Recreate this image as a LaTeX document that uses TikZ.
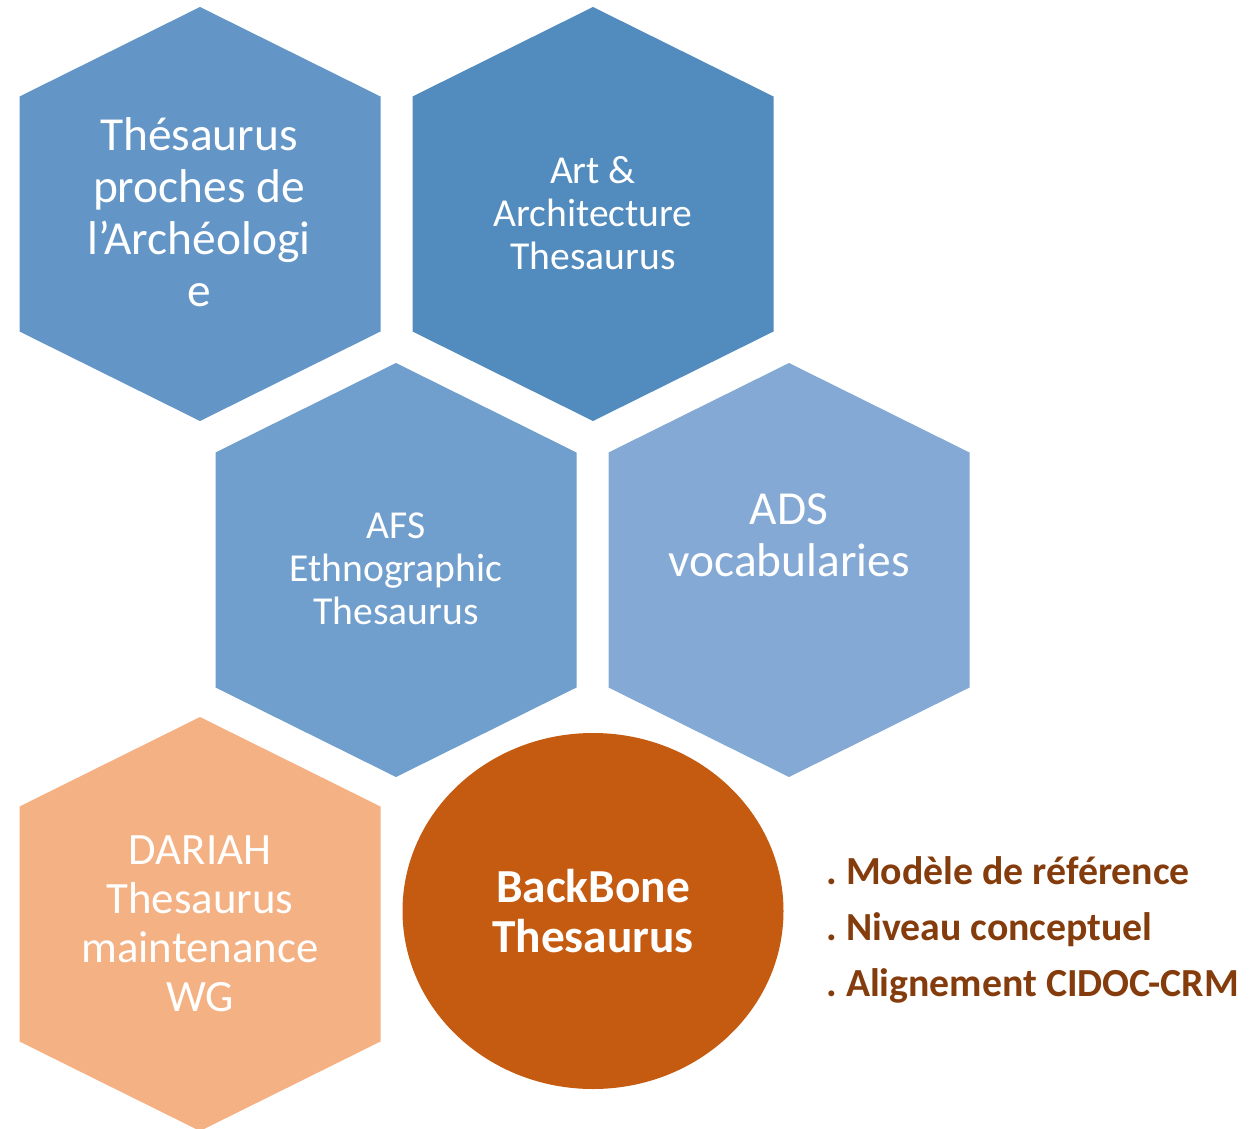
\documentclass[tikz,border=0pt]{standalone}
\usepackage{fontspec}
\setmainfont{Carlito}
\frenchspacing
\usetikzlibrary{shapes.geometric}
\definecolor{hexone}{HTML}{6396C6}
\definecolor{hextwo}{HTML}{528BBE}
\definecolor{hexthree}{HTML}{709ECD}
\definecolor{hexfour}{HTML}{84A9D4}
\definecolor{hexfive}{HTML}{F4B183}
\definecolor{backbone}{HTML}{C55A11}
\definecolor{listbrown}{HTML}{843C0C}
\newcommand{\hexpath}{(0,-207) -- (180.5,-117.5) -- (180.5,117.5) -- (0,207) -- (-180.5,117.5) -- (-180.5,-117.5) -- cycle}
\tikzset{
    hexlabel/.style={text=white, align=center, inner sep=0pt},
    biglabel/.style={hexlabel, font=\fontsize{23.7}{26}\selectfont},
    smalllabel/.style={hexlabel, font=\fontsize{19.8}{21.5}\selectfont},
    listitem/.style={anchor=base west, inner sep=0pt, text=listbrown,
        font=\fontsize{19.9}{24}\selectfont\bfseries}
}

\begin{document}
\begin{tikzpicture}[x=0.5pt,y=-0.5pt]
    \useasboundingbox (0,0) rectangle (1258,1129);
    % hexagons
    \fill[hexone, shift={(200,214)}] \hexpath;
    \fill[hextwo, shift={(593,214)}] \hexpath;
    \fill[hexthree, shift={(396,570)}] \hexpath;
    \fill[hexfour, shift={(789,570)}] \hexpath;
    \fill[hexfive, shift={(200,924)}] \hexpath;
    % labels
    \node[biglabel] (archeo) at (199,212) {Thésaurus\\proches de\\l’Archéologi\\e};
    \node[smalllabel] (aat) at (593,213) {Art \&\\Architecture\\Thesaurus};
    \node[smalllabel] (afs) at (396,569) {AFS\\Ethnographic\\Thesaurus};
    \node[biglabel] (ads) at (789,535) {ADS\\vocabularies};
    \node[hexlabel, font=\fontsize{22.4}{24.5}\selectfont] (dariah) at (200,924) {DARIAH\\Thesaurus\\maintenance\\WG};
    \node[ellipse, fill=backbone, minimum width=190.5pt, minimum height=178pt,
          text=white, align=center, inner sep=0pt,
          font=\fontsize{23.7}{25}\selectfont\bfseries] (bbt) at (593,911) {BackBone\\Thesaurus};
    % list
    \node[listitem] (modele) at (826,884) {. Modèle de référence};
    \node[listitem] (niveau) at (826,940) {. Niveau conceptuel};
    \node[listitem] (cidoc) at (826,996) {. Alignement CIDOC-CRM};
\end{tikzpicture}
\end{document}
